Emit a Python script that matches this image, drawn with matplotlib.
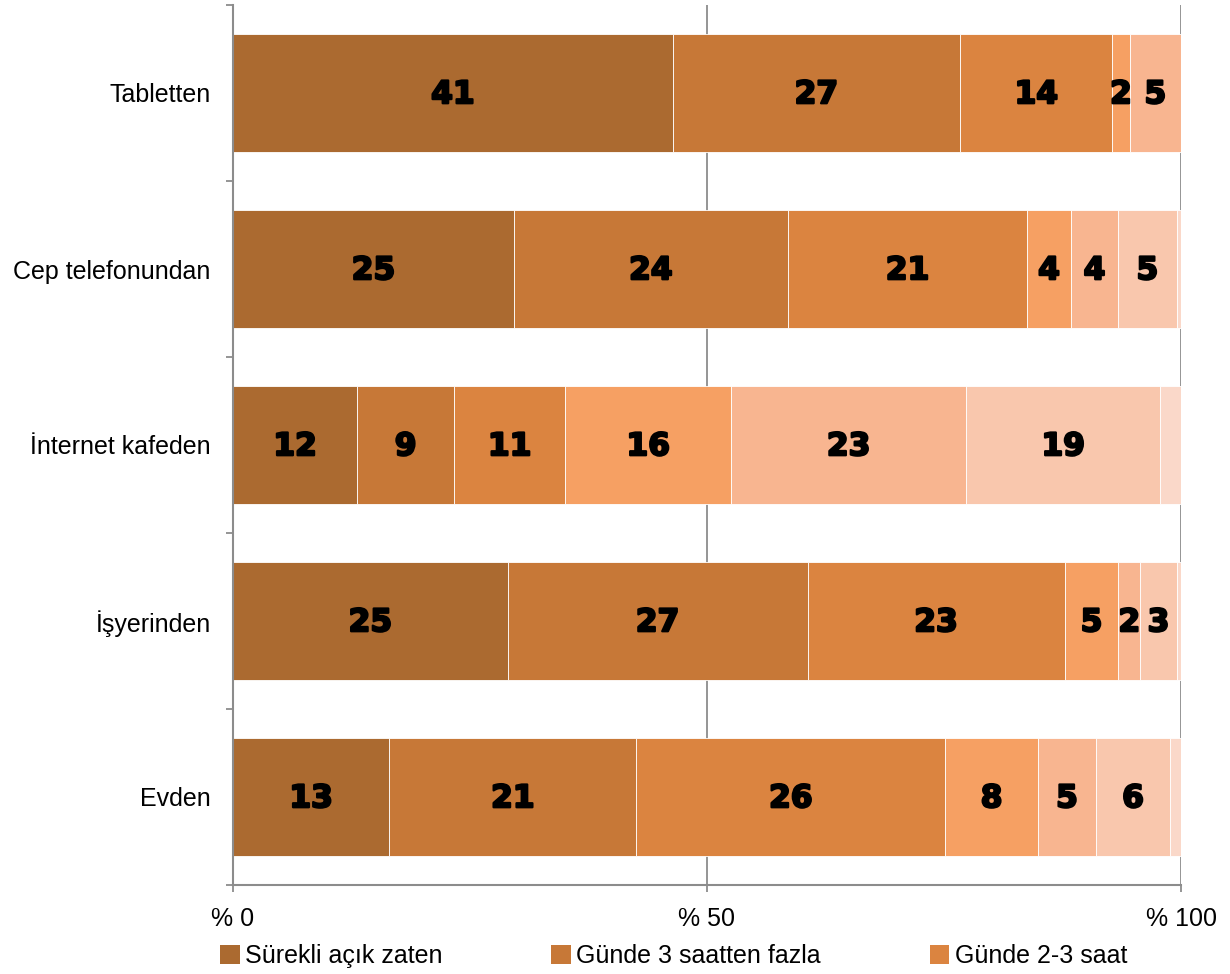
import matplotlib
matplotlib.use('Agg')
import matplotlib.pyplot as plt
import matplotlib.patheffects as pe
from matplotlib.patches import Patch
from matplotlib.ticker import FixedLocator
import numpy as np

categories = ['Evden', 'İşyerinden', 'İnternet kafeden', 'Cep telefonundan', 'Tabletten']
legend_names = ['Sürekli açık zaten', 'Günde 3 saatten fazla', 'Günde 2-3 saat']

s1 = [13.0, 25.0, 12.0, 25.0, 41.0]
s2 = [20.6, 27.3, 9.4, 24.4, 26.8]
s3 = [25.7, 23.4, 10.7, 21.3, 14.2]
s4 = [7.75, 4.9, 16.1, 3.9, 1.6]
s5 = [4.8, 2.0, 22.7, 4.2, 4.8]
s6 = [6.2, 3.3, 18.8, 5.2, 0.0]
s7 = [0.9, 0.4, 2.0, 0.4, 0.0]

xtick_vals = [0, 50, 100]
xtick_labels = ['% 0', '% 50', '% 100']

colors = ['#AB6A30', '#C77837', '#DB8440', '#F6A063', '#F8B590', '#F9C7AD', '#FAD8C9']
labeled = [True, True, True, True, True, True, False]

series = np.array([s1, s2, s3, s4, s5, s6, s7])
totals = series.sum(axis=0)
pct = series / totals * 100

fig = plt.figure(figsize=(12.3, 9.74), dpi=100)
ax = fig.add_axes([233/1230, 89/974, 948/1230, 880/974])

y = np.arange(len(categories))
left = np.zeros(len(categories))
for i in range(series.shape[0]):
    ax.barh(y, pct[i], left=left, height=0.67, color=colors[i],
            edgecolor='white', linewidth=0.6, zorder=3)
    if labeled[i]:
        for j in range(len(categories)):
            v = series[i, j]
            if v >= 1:
                ax.text(left[j] + pct[i, j] / 2, y[j] - 0.01, f'{int(round(v))}',
                        ha='center', va='center', fontsize=22.5,
                        fontweight='bold', family='DejaVu Sans',
                        color='black', zorder=4,
                        path_effects=[pe.withStroke(linewidth=1.6, foreground='black')])
    left += pct[i]

ax.set_xlim(0, 100)
ax.set_ylim(-0.5, len(categories) - 0.5)

grey = '#8C8C8C'
for x in [50, 100]:
    ax.axvline(x, color=grey, lw=1.3, zorder=1)

for s in ['top', 'right']:
    ax.spines[s].set_visible(False)
for s in ['left', 'bottom']:
    ax.spines[s].set_color(grey)
    ax.spines[s].set_linewidth(1.5)
    ax.spines[s].set_zorder(5)

ax.set_xticks(xtick_vals)
ax.set_xticklabels(xtick_labels)
ax.set_yticks(y)
ax.set_yticklabels(categories)
ax.yaxis.set_minor_locator(FixedLocator(np.arange(-0.5, len(categories), 1.0)))
ax.tick_params(axis='y', which='major', length=0, pad=16, labelsize=18)
ax.tick_params(axis='y', which='minor', length=5, width=1.3, color=grey, direction='out')
ax.tick_params(axis='x', which='major', length=5, width=1.3, color=grey, direction='out',
               pad=11, labelsize=18)
for lab in ax.get_xticklabels() + ax.get_yticklabels():
    lab.set_family(['Liberation Sans', 'DejaVu Sans'])

handles = [Patch(facecolor=colors[k], edgecolor='none') for k in range(3)]
leg = fig.legend(handles, legend_names, loc='center left',
                 bbox_to_anchor=(220/1230, 18/974), ncol=3, frameon=False,
                 borderaxespad=0, borderpad=0, handlelength=0.78, handleheight=0.78,
                 handletextpad=0.22, columnspacing=4.35,
                 prop={'family': ['Liberation Sans', 'DejaVu Sans'], 'size': 18})

fig.savefig('out.png', dpi=100)
